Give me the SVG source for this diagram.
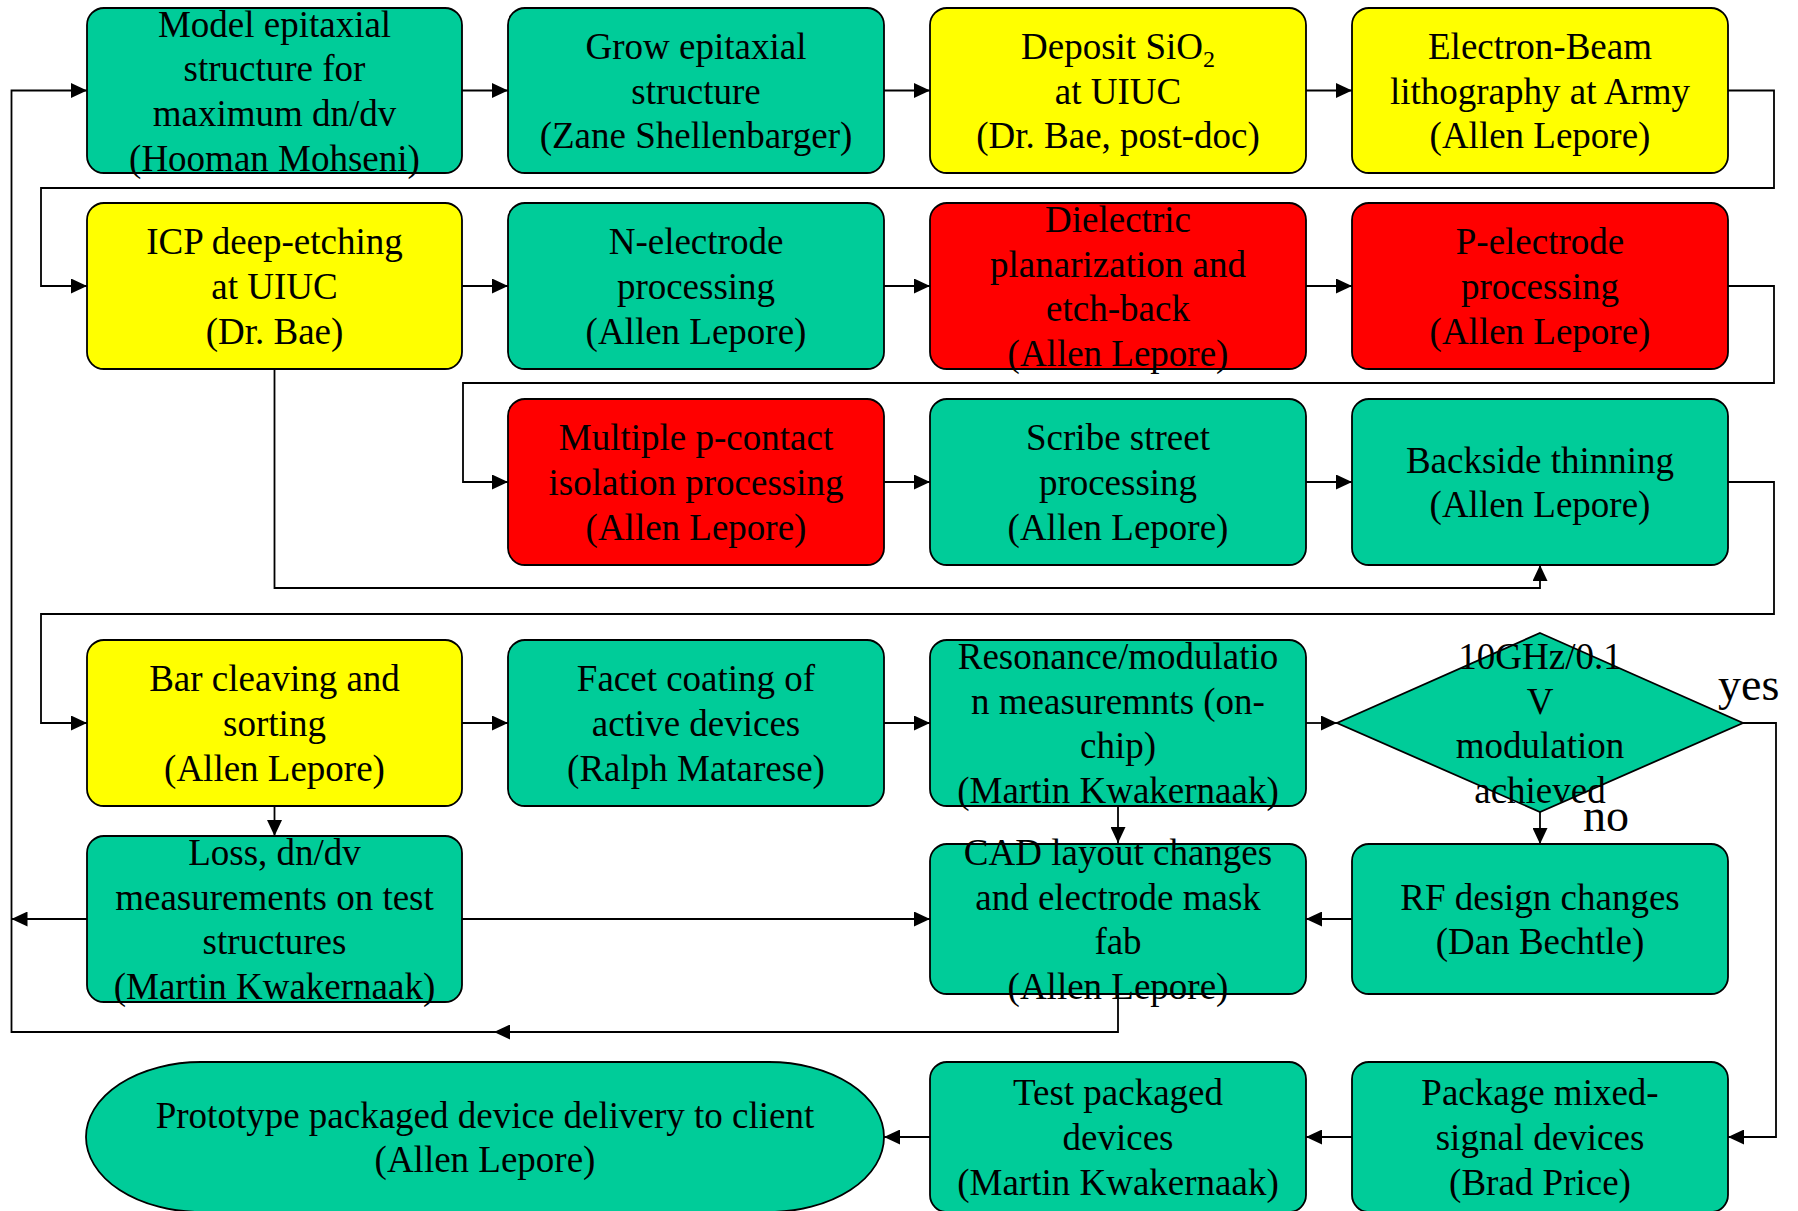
<svg xmlns="http://www.w3.org/2000/svg" width="1798" height="1211" viewBox="0 0 1798 1211">
  <style>
    .box { stroke: #000; stroke-width: 1.8; }
    .green { fill: #00CC99; }
    .yellow { fill: #FFFF00; }
    .red { fill: #FF0000; }
    text { font-family: "Liberation Serif", "Times New Roman", serif; font-size: 37px; fill: #000; text-anchor: middle; }
    .lbl { text-anchor: start; font-size: 46px; }
    .wire { fill: none; stroke: #000; stroke-width: 1.8; }
    .arrow { marker-end: url(#head); }
  </style>
  <defs>
    <marker id="head" markerUnits="userSpaceOnUse" markerWidth="16" markerHeight="15" refX="16" refY="7.5" orient="auto">
      <path d="M0,0 L16,7.5 L0,15 Z" fill="#000"/>
    </marker>
  </defs>

  <rect width="1798" height="1211" fill="#fff"/>

  <!-- connectors -->
  <g id="connectors">
    <!-- row 1 -->
    <path class="wire arrow" d="M462,90.5 H508"/>
    <path class="wire arrow" d="M884,90.5 H930"/>
    <path class="wire arrow" d="M1306,90.5 H1352"/>
    <path class="wire arrow" d="M1728,90.5 H1774 V188 H41 V286 H87"/>
    <!-- row 2 -->
    <path class="wire arrow" d="M462,286 H508"/>
    <path class="wire arrow" d="M884,286 H930"/>
    <path class="wire arrow" d="M1306,286 H1352"/>
    <path class="wire arrow" d="M1728,286 H1774 V383 H463 V482 H508"/>
    <!-- row 3 -->
    <path class="wire arrow" d="M884,482 H930"/>
    <path class="wire arrow" d="M1306,482 H1352"/>
    <path class="wire arrow" d="M274.5,369 V588 H1540 V565"/>
    <path class="wire arrow" d="M1728,482 H1774 V614 H41 V723 H87"/>
    <!-- row 4 -->
    <path class="wire arrow" d="M462,723 H508"/>
    <path class="wire arrow" d="M884,723 H930"/>
    <path class="wire arrow" d="M1306,723 H1337"/>
    <path class="wire arrow" d="M1743,723 H1776 V1137 H1728"/>
    <path class="wire arrow" d="M1540,812 V844"/>
    <path class="wire arrow" d="M1118,806 V843"/>
    <path class="wire arrow" d="M274.5,806 V836"/>
    <!-- row 5 -->
    <path class="wire arrow" d="M1352,919 H1306"/>
    <path class="wire arrow" d="M462,919 H930"/>
    <path class="wire arrow" d="M87,919 H11.5"/>
    <!-- feedback loop back to the start -->
    <path class="wire arrow" d="M1118,994 V1032 H494"/>
    <path class="wire arrow" d="M494,1032 H11.5 V90.5 H87"/>
    <!-- row 6 -->
    <path class="wire arrow" d="M1352,1137 H1306"/>
    <path class="wire arrow" d="M930,1137 H884"/>
  </g>

  <!-- row 1 -->
  <g id="model-epi">
    <rect class="box green" x="87" y="8" width="375" height="165" rx="17"/>
    <text x="274.5" y="36.5">Model epitaxial</text>
    <text x="274.5" y="81.2">structure for</text>
    <text x="274.5" y="125.9">maximum dn/dv</text>
    <text x="274.5" y="170.5">(Hooman Mohseni)</text>
  </g>
  <g id="grow-epi">
    <rect class="box green" x="508" y="8" width="376" height="165" rx="17"/>
    <text x="696" y="58.8">Grow epitaxial</text>
    <text x="696" y="103.5">structure</text>
    <text x="696" y="148.2">(Zane Shellenbarger)</text>
  </g>
  <g id="deposit-sio2">
    <rect class="box yellow" x="930" y="8" width="376" height="165" rx="17"/>
    <text x="1118" y="58.8">Deposit SiO<tspan font-size="24" dy="8">2</tspan></text>
    <text x="1118" y="103.5">at UIUC</text>
    <text x="1118" y="148.2">(Dr. Bae, post-doc)</text>
  </g>
  <g id="ebeam-litho">
    <rect class="box yellow" x="1352" y="8" width="376" height="165" rx="17"/>
    <text x="1540" y="58.8">Electron-Beam</text>
    <text x="1540" y="103.5">lithography at Army</text>
    <text x="1540" y="148.2">(Allen Lepore)</text>
  </g>

  <!-- row 2 -->
  <g id="icp-etch">
    <rect class="box yellow" x="87" y="203" width="375" height="166" rx="17"/>
    <text x="274.5" y="254.3">ICP deep-etching</text>
    <text x="274.5" y="299">at UIUC</text>
    <text x="274.5" y="343.7">(Dr. Bae)</text>
  </g>
  <g id="n-electrode">
    <rect class="box green" x="508" y="203" width="376" height="166" rx="17"/>
    <text x="696" y="254.3">N-electrode</text>
    <text x="696" y="299">processing</text>
    <text x="696" y="343.7">(Allen Lepore)</text>
  </g>
  <g id="dielectric">
    <rect class="box red" x="930" y="203" width="376" height="166" rx="17"/>
    <text x="1118" y="232">Dielectric</text>
    <text x="1118" y="276.6">planarization and</text>
    <text x="1118" y="321.3">etch-back</text>
    <text x="1118" y="366">(Allen Lepore)</text>
  </g>
  <g id="p-electrode">
    <rect class="box red" x="1352" y="203" width="376" height="166" rx="17"/>
    <text x="1540" y="254.3">P-electrode</text>
    <text x="1540" y="299">processing</text>
    <text x="1540" y="343.7">(Allen Lepore)</text>
  </g>

  <!-- row 3 -->
  <g id="p-contact-isolation">
    <rect class="box red" x="508" y="399" width="376" height="166" rx="17"/>
    <text x="696" y="450.3">Multiple p-contact</text>
    <text x="696" y="495">isolation processing</text>
    <text x="696" y="539.7">(Allen Lepore)</text>
  </g>
  <g id="scribe-street">
    <rect class="box green" x="930" y="399" width="376" height="166" rx="17"/>
    <text x="1118" y="450.3">Scribe street</text>
    <text x="1118" y="495">processing</text>
    <text x="1118" y="539.7">(Allen Lepore)</text>
  </g>
  <g id="backside-thinning">
    <rect class="box green" x="1352" y="399" width="376" height="166" rx="17"/>
    <text x="1540" y="472.6">Backside thinning</text>
    <text x="1540" y="517.4">(Allen Lepore)</text>
  </g>

  <!-- row 4 -->
  <g id="bar-cleaving">
    <rect class="box yellow" x="87" y="640" width="375" height="166" rx="17"/>
    <text x="274.5" y="691.3">Bar cleaving and</text>
    <text x="274.5" y="736">sorting</text>
    <text x="274.5" y="780.7">(Allen Lepore)</text>
  </g>
  <g id="facet-coating">
    <rect class="box green" x="508" y="640" width="376" height="166" rx="17"/>
    <text x="696" y="691.3">Facet coating of</text>
    <text x="696" y="736">active devices</text>
    <text x="696" y="780.7">(Ralph Matarese)</text>
  </g>
  <g id="resonance">
    <rect class="box green" x="930" y="640" width="376" height="166" rx="17"/>
    <text x="1118" y="669">Resonance/modulatio</text>
    <text x="1118" y="713.6">n measuremnts (on-</text>
    <text x="1118" y="758.3">chip)</text>
    <text x="1118" y="803">(Martin Kwakernaak)</text>
  </g>
  <g id="modulation-check">
    <path class="box green" d="M1540,633 L1743,723 L1540,812 L1337,723 Z"/>
    <text x="1540" y="669">10GHz/0.1</text>
    <text x="1540" y="713.6">V</text>
    <text x="1540" y="758.3">modulation</text>
    <text x="1540" y="803">achieved</text>
  </g>
  <text class="lbl" x="1718" y="700">yes</text>
  <text class="lbl" x="1583" y="831">no</text>

  <!-- row 5 -->
  <g id="loss-measurements">
    <rect class="box green" x="87" y="836" width="375" height="166" rx="17"/>
    <text x="274.5" y="865">Loss, dn/dv</text>
    <text x="274.5" y="909.6">measurements on test</text>
    <text x="274.5" y="954.3">structures</text>
    <text x="274.5" y="999">(Martin Kwakernaak)</text>
  </g>
  <g id="cad-layout">
    <rect class="box green" x="930" y="844" width="376" height="150" rx="17"/>
    <text x="1118" y="865">CAD layout changes</text>
    <text x="1118" y="909.6">and electrode mask</text>
    <text x="1118" y="954.3">fab</text>
    <text x="1118" y="999">(Allen Lepore)</text>
  </g>
  <g id="rf-design">
    <rect class="box green" x="1352" y="844" width="376" height="150" rx="17"/>
    <text x="1540" y="909.6">RF design changes</text>
    <text x="1540" y="954.4">(Dan Bechtle)</text>
  </g>

  <!-- row 6 -->
  <g id="prototype-delivery">
    <rect class="box green" x="86" y="1062" width="798" height="150" rx="115" ry="75"/>
    <text x="485" y="1127.6">Prototype packaged device delivery to client</text>
    <text x="485" y="1172.4">(Allen Lepore)</text>
  </g>
  <g id="test-packaged">
    <rect class="box green" x="930" y="1062" width="376" height="150" rx="17"/>
    <text x="1118" y="1105.3">Test packaged</text>
    <text x="1118" y="1150">devices</text>
    <text x="1118" y="1194.7">(Martin Kwakernaak)</text>
  </g>
  <g id="package-mixed">
    <rect class="box green" x="1352" y="1062" width="376" height="150" rx="17"/>
    <text x="1540" y="1105.3">Package mixed-</text>
    <text x="1540" y="1150">signal devices</text>
    <text x="1540" y="1194.7">(Brad Price)</text>
  </g>
</svg>
